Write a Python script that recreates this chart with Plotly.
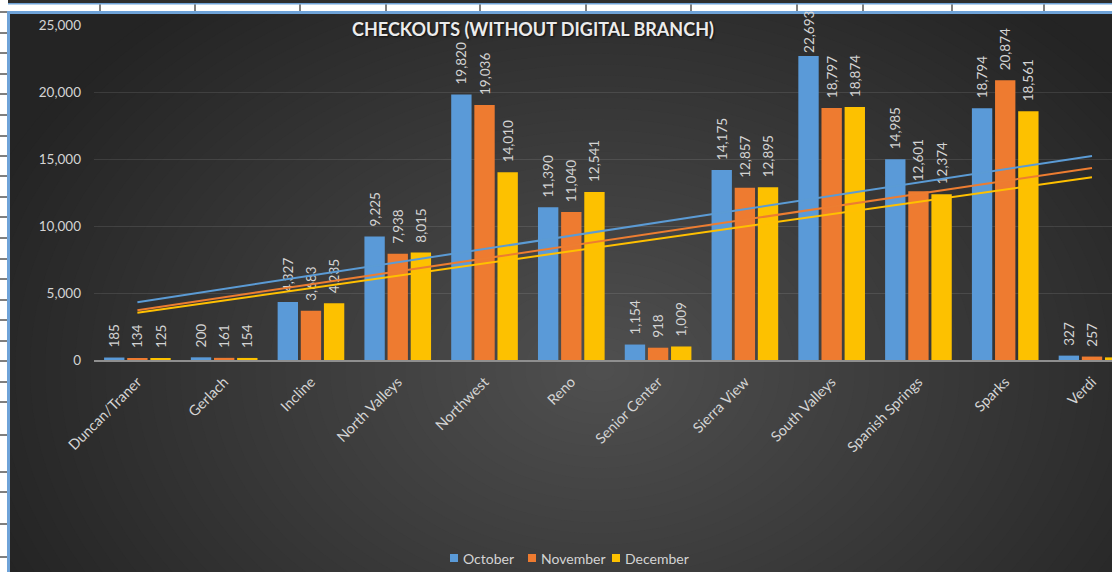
import numpy as np
import plotly.graph_objects as go

# data
branches = ["Duncan/Traner", "Gerlach", "Incline", "North Valleys", "Northwest", "Reno",
            "Senior Center", "Sierra View", "South Valleys", "Spanish Springs", "Sparks", "Verdi"]
october = [185, 200, 4327, 9225, 19820, 11390, 1154, 14175, 22693, 14985, 18794, 327]
november = [134, 161, 3683, 7938, 19036, 11040, 918, 12857, 18797, 12601, 20874, 257]
december = [125, 154, 4235, 8015, 14010, 12541, 1009, 12895, 18874, 12374, 18561, 196]

months = ["October", "November", "December"]
colors = ["#5a9ad8", "#ee7b30", "#fdc100"]
lineColors = ["#5b9bd5", "#ed7d31", "#ffc000"]

W, H = 1112, 572
ml, mt, mb = 94, 25, 212
pw = W - ml
ph = H - mt - mb


def px2x(px):
    return (px - ml) / pw


def py2y(py):
    return (H - mb - py) / ph


def label(v):
    # excel keeps a small gap above the bar unless the label would leave the chart
    pad = "\u00a0\u00a0" if v < 21500 else ""
    return pad + f"{v:,}"


fig = go.Figure()

xs = np.arange(len(branches))
for name, vals, col in zip(months, [october, november, december], colors):
    fig.add_trace(go.Bar(
        x=branches, y=vals, name=name,
        marker=dict(color=col, line=dict(width=0)),
        text=[label(v) for v in vals],
        textposition="outside", textangle=-90,
        textfont=dict(color="#d4d4d4", size=13.5),
        constraintext="none", cliponaxis=False, showlegend=False,
    ))
# linear trendlines
for name, vals, lcol in zip(months, [october, november, december], lineColors):
    k, b = np.polyfit(xs + 1, vals, 1)
    fig.add_trace(go.Scatter(
        x=branches, y=k * (xs + 1) + b, mode="lines",
        line=dict(color=lcol, width=2), showlegend=False, hoverinfo="skip",
    ))

# background radial-ish gradient
shapes = []
cx, cy, rx, ry = 600, 370, 660, 480
nsteps = 44
for i in range(nsteps):
    f = 1 - i / nsteps
    g = 0x24 + i
    shapes.append(dict(
        type="circle", xref="paper", yref="paper", layer="below",
        x0=px2x(cx - rx * f), x1=px2x(cx + rx * f),
        y0=py2y(cy + ry * f), y1=py2y(cy - ry * f),
        fillcolor=f"rgb({g},{g},{g})", line=dict(width=0),
    ))

# spreadsheet frame around the chart
frame = "#6fa3d8"
shapes.append(dict(type="rect", xref="paper", yref="paper", layer="below",
                   x0=px2x(0), x1=px2x(W), y0=py2y(0), y1=py2y(13),
                   fillcolor="white", line=dict(width=0)))
shapes.append(dict(type="rect", xref="paper", yref="paper", layer="below",
                   x0=px2x(8), x1=px2x(W), y0=py2y(0), y1=py2y(3),
                   fillcolor="#2e2e2e", line=dict(width=0)))
shapes.append(dict(type="rect", xref="paper", yref="paper", layer="below",
                   x0=px2x(8), x1=px2x(W), y0=py2y(3), y1=py2y(4.5),
                   fillcolor=frame, line=dict(width=0)))
shapes.append(dict(type="rect", xref="paper", yref="paper", layer="below",
                   x0=px2x(7), x1=px2x(W), y0=py2y(11), y1=py2y(14),
                   fillcolor=frame, line=dict(width=0)))
shapes.append(dict(type="rect", xref="paper", yref="paper", layer="below",
                   x0=px2x(0), x1=px2x(7), y0=py2y(0), y1=py2y(H),
                   fillcolor="white", line=dict(width=0)))
shapes.append(dict(type="rect", xref="paper", yref="paper", layer="below",
                   x0=px2x(7), x1=px2x(10), y0=py2y(11), y1=py2y(H),
                   fillcolor=frame, line=dict(width=0)))
colLines = [100, 195, 300, 386, 480, 586, 691, 797, 863, 952, 1044]
for c in colLines:
    shapes.append(dict(type="line", xref="paper", yref="paper", layer="below",
                       x0=px2x(c), x1=px2x(c), y0=py2y(4.5), y1=py2y(11),
                       line=dict(color="black", width=1)))
rowLines = [12, 33, 53, 74, 94, 115, 136, 156, 176, 197, 217, 238, 259, 279, 300,
            320, 341, 361, 382, 402, 435, 472, 492, 524, 557]
for r in rowLines:
    shapes.append(dict(type="line", xref="paper", yref="paper", layer="below",
                       x0=px2x(0), x1=px2x(7), y0=py2y(r), y1=py2y(r),
                       line=dict(color="black", width=1)))

# legend drawn by hand (Excel style small squares)
annotations = []
legendX = [450, 528, 612]
for name, col, lx in zip(months, colors, legendX):
    shapes.append(dict(type="rect", xref="paper", yref="paper", layer="above",
                       x0=px2x(lx), x1=px2x(lx + 8), y0=py2y(562), y1=py2y(554),
                       fillcolor=col, line=dict(width=0)))
    annotations.append(dict(text=name, xref="paper", yref="paper", x=px2x(lx + 11), y=py2y(558),
                            xanchor="left", yanchor="middle", showarrow=False,
                            font=dict(size=14, color="#d4d4d4")))

font = "Lato, 'Open Sans', sans-serif"
fig.update_layout(
    width=W, height=H,
    margin=dict(l=ml, r=0, t=mt, b=mb),
    paper_bgcolor="#242424", plot_bgcolor="rgba(0,0,0,0)",
    font=dict(family=font, color="#d4d4d4", size=13),
    title=dict(text="CHECKOUTS (WITHOUT DIGITAL BRANCH)", xref="container", yref="container",
               x=533 / W, y=1 - 30 / H, xanchor="center", yanchor="middle",
               font=dict(family=font, size=18, color="#ececec", weight="bold",
                         shadow="1px 1px 2px rgba(0,0,0,0.7)")),
    barmode="group", bargap=0.2, bargroupgap=0.12,
    showlegend=False,
    shapes=shapes,
    annotations=annotations,
)
fig.update_xaxes(range=[-0.5, 11 + (W - 1092) / 86.8], tickangle=-45,
                 showline=True, linecolor="#8f8f8f", linewidth=1.5,
                 showgrid=False, ticks="", ticklabelstandoff=6,
                 tickfont=dict(size=14.5, color="#d4d4d4"))
fig.update_yaxes(range=[0, 25000], dtick=5000, tickformat=",", showgrid=True,
                 gridcolor="rgba(255,255,255,0.1)", gridwidth=1, zeroline=False,
                 showline=False, ticks="", ticklabelstandoff=12,
                 tickfont=dict(size=13.5, color="#d4d4d4"))

fig.write_html("out.html", config={"displayModeBar": False},
               post_script="document.body.style.margin='0';")
